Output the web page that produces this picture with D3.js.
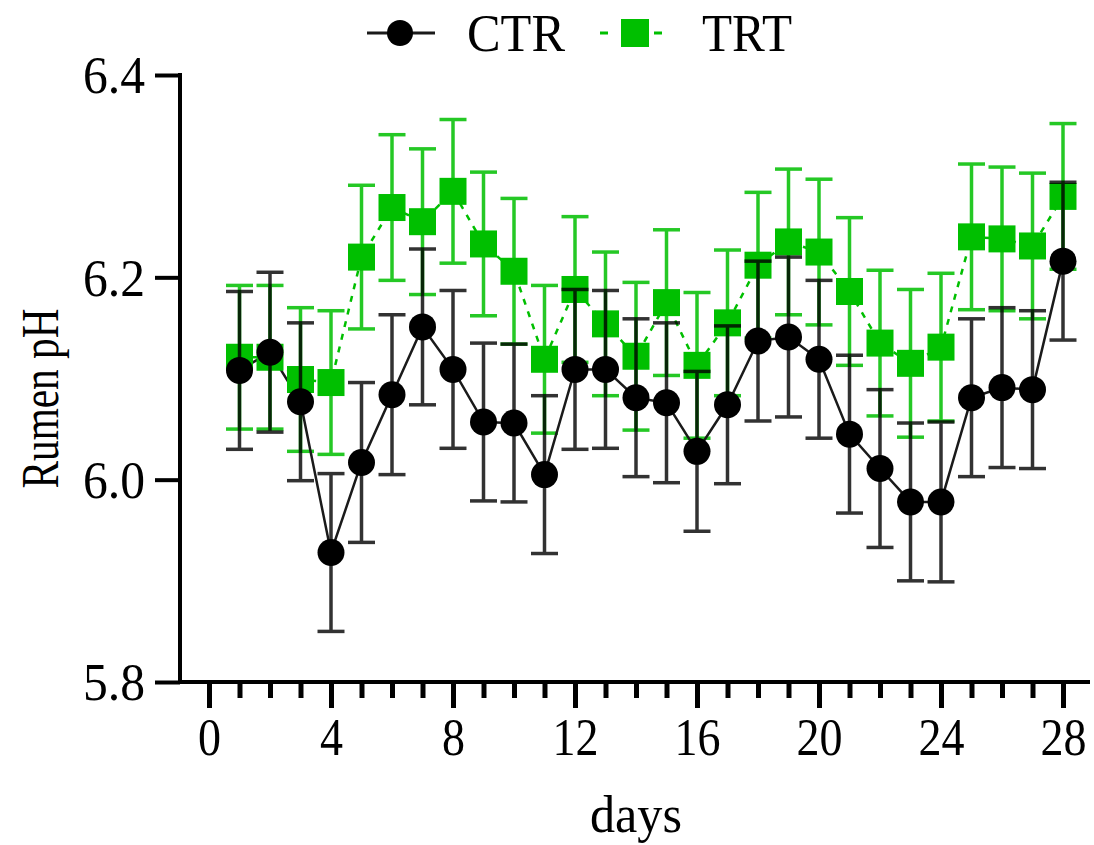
<!DOCTYPE html>
<html>
<head>
<meta charset="utf-8">
<script src="https://cdn.jsdelivr.net/npm/d3@7"></script>
<style>
  html, body { margin: 0; padding: 0; background: #fff; }
  svg { display: block; }
  text { font-family: "Liberation Serif", "Times New Roman", serif; fill: #000; }
</style>
</head>
<body>
<svg id="chart" width="1094" height="845"></svg>
<script>
// Rumen pH by day, control vs. treatment (mean ± SEM)
const days = d3.range(1, 29);
const ctrMean = [6.108, 6.126, 6.077, 5.928, 6.017, 6.084, 6.151, 6.109, 6.057, 6.056,
                 6.005, 6.109, 6.109, 6.081, 6.076, 6.028, 6.074, 6.137, 6.141, 6.119,
                 6.045, 6.011, 5.978, 5.978, 6.081, 6.091, 6.089, 6.216];
const ctrErr  = [0.078, 0.079, 0.078, 0.078, 0.079, 0.079, 0.077, 0.078, 0.078, 0.078,
                 0.078, 0.079, 0.078, 0.078, 0.079, 0.079, 0.078, 0.079, 0.079, 0.078,
                 0.078, 0.078, 0.078, 0.079, 0.078, 0.079, 0.078, 0.078];
const trtMean = [6.121, 6.121, 6.099, 6.096, 6.220, 6.269, 6.255, 6.285, 6.233, 6.206,
                 6.119, 6.188, 6.154, 6.122, 6.175, 6.113, 6.155, 6.212, 6.235, 6.225,
                 6.186, 6.135, 6.115, 6.131, 6.240, 6.238, 6.231, 6.280];
const trtErr  = [0.071, 0.071, 0.071, 0.071, 0.071, 0.072, 0.072, 0.071, 0.071, 0.072,
                 0.073, 0.072, 0.071, 0.073, 0.072, 0.072, 0.072, 0.072, 0.072, 0.072,
                 0.073, 0.072, 0.073, 0.073, 0.072, 0.071, 0.072, 0.072];
const xMajorTicks = [0, 4, 8, 12, 16, 20, 24, 28];
const xMinorTicks = d3.range(0, 29);
const yTicks = [5.8, 6.0, 6.2, 6.4];
const seriesNames = ["CTR", "TRT"];

const GREEN = "#00bf00";
const svg = d3.select("#chart");

const x = d3.scaleLinear().domain([0, 28]).range([209, 1063]);
const y = d3.scaleLinear().domain([5.8, 6.4]).range([682, 75]);

const ctr = days.map((d, i) => ({ day: d, mean: ctrMean[i], err: ctrErr[i] }));
const trt = days.map((d, i) => ({ day: d, mean: trtMean[i], err: trtErr[i] }));

// slightly condensed serif labels
const labelWidth = s => s.length === 1 ? 23 : s.length === 2 ? 46 : 62;

// ---- axes ----
const axisX0 = 180, axisX1 = 1090;

const gy = svg.append("g").attr("transform", `translate(${axisX0},0)`)
  .call(d3.axisLeft(y).tickValues(yTicks).tickSize(25).tickPadding(10).tickFormat(d3.format(".1f")));
gy.select(".domain").remove();
gy.selectAll(".tick line").attr("stroke", "#000").attr("stroke-width", 4);
gy.selectAll(".tick text").attr("font-size", 52).attr("font-family", "Liberation Serif").attr("dy", "0.34em")
  .attr("textLength", function () { return labelWidth(this.textContent); })
  .attr("lengthAdjust", "spacingAndGlyphs");

const gxMinor = svg.append("g").attr("transform", `translate(0,${y(5.8)})`)
  .call(d3.axisBottom(x).tickValues(xMinorTicks).tickSize(16).tickFormat(""));
gxMinor.select(".domain").remove();
gxMinor.selectAll(".tick line").attr("stroke", "#000").attr("stroke-width", 5);

const gxMajor = svg.append("g").attr("transform", `translate(0,${y(5.8)})`)
  .call(d3.axisBottom(x).tickValues(xMajorTicks).tickSize(26).tickPadding(10).tickFormat(d3.format("d")));
gxMajor.select(".domain").remove();
gxMajor.selectAll(".tick line").attr("stroke", "#000").attr("stroke-width", 5);
gxMajor.selectAll(".tick text").attr("font-size", 52).attr("font-family", "Liberation Serif").attr("dy", "0.72em")
  .attr("textLength", function () { return labelWidth(this.textContent); })
  .attr("lengthAdjust", "spacingAndGlyphs");

svg.append("line").attr("x1", axisX0).attr("x2", axisX0)
  .attr("y1", y(6.4) - 2).attr("y2", y(5.8) + 2)
  .attr("stroke", "#000").attr("stroke-width", 4);
svg.append("line").attr("x1", axisX0 - 2).attr("x2", axisX1)
  .attr("y1", y(5.8)).attr("y2", y(5.8))
  .attr("stroke", "#000").attr("stroke-width", 4);

// axis titles
svg.append("text")
  .attr("transform", `translate(58,${(y(5.8) + y(6.4)) / 2 + 20}) rotate(-90)`)
  .attr("text-anchor", "middle").attr("font-size", 52)
  .attr("textLength", 180).attr("lengthAdjust", "spacingAndGlyphs")
  .text("Rumen pH");
svg.append("text")
  .attr("x", (x(0) + x(28)) / 2).attr("y", 832)
  .attr("text-anchor", "middle").attr("font-size", 52)
  .attr("textLength", 92).attr("lengthAdjust", "spacingAndGlyphs")
  .text("days");

// ---- error bars ----
const capW = 27;
function errorBars(data, color, width, opacity) {
  const g = svg.append("g").attr("opacity", opacity);
  g.selectAll("line.v").data(data).join("line").attr("class", "v")
    .attr("x1", d => x(d.day)).attr("x2", d => x(d.day))
    .attr("y1", d => y(d.mean + d.err)).attr("y2", d => y(d.mean - d.err))
    .attr("stroke", color).attr("stroke-width", width);
  g.selectAll("line.hi").data(data).join("line").attr("class", "hi")
    .attr("x1", d => x(d.day) - capW / 2).attr("x2", d => x(d.day) + capW / 2)
    .attr("y1", d => y(d.mean + d.err)).attr("y2", d => y(d.mean + d.err))
    .attr("stroke", color).attr("stroke-width", width);
  g.selectAll("line.lo").data(data).join("line").attr("class", "lo")
    .attr("x1", d => x(d.day) - capW / 2).attr("x2", d => x(d.day) + capW / 2)
    .attr("y1", d => y(d.mean - d.err)).attr("y2", d => y(d.mean - d.err))
    .attr("stroke", color).attr("stroke-width", width);
}

const line = d3.line().x(d => x(d.day)).y(d => y(d.mean));

errorBars(trt, GREEN, 3.5, 0.85);

// treatment series line
svg.append("path").datum(trt).attr("d", line)
  .attr("fill", "none").attr("stroke", GREEN).attr("stroke-width", 2.5)
  .attr("stroke-dasharray", "6,7");

// control series line
svg.append("path").datum(ctr).attr("d", line)
  .attr("fill", "none").attr("stroke", "#1a1a1a").attr("stroke-width", 2.5);

const sq = 27;
svg.append("g").selectAll("rect").data(trt).join("rect")
  .attr("x", d => x(d.day) - sq / 2).attr("y", d => y(d.mean) - sq / 2)
  .attr("width", sq).attr("height", sq).attr("fill", GREEN);

errorBars(ctr, "#000", 3.5, 0.8);

svg.append("g").selectAll("circle").data(ctr).join("circle")
  .attr("cx", d => x(d.day)).attr("cy", d => y(d.mean))
  .attr("r", 13.5).attr("fill", "#000");

// ---- legend ----
const legend = svg.append("g");
const ly = 33;
legend.append("line").attr("x1", 367).attr("x2", 435).attr("y1", ly).attr("y2", ly)
  .attr("stroke", "#1a1a1a").attr("stroke-width", 3);
legend.append("circle").attr("cx", 400).attr("cy", ly).attr("r", 13).attr("fill", "#000");
legend.append("text").attr("x", 467).attr("y", ly + 18).attr("font-size", 52)
  .attr("textLength", 98).attr("lengthAdjust", "spacingAndGlyphs").text(seriesNames[0]);

legend.append("line").attr("x1", 600).attr("x2", 670).attr("y1", ly).attr("y2", ly)
  .attr("stroke", GREEN).attr("stroke-width", 3).attr("stroke-dasharray", "8,19");
legend.append("rect").attr("x", 635 - 14).attr("y", ly - 14).attr("width", 28).attr("height", 28)
  .attr("fill", GREEN);
legend.append("text").attr("x", 702).attr("y", ly + 18).attr("font-size", 52)
  .attr("textLength", 90).attr("lengthAdjust", "spacingAndGlyphs").text(seriesNames[1]);
</script>
</body>
</html>
